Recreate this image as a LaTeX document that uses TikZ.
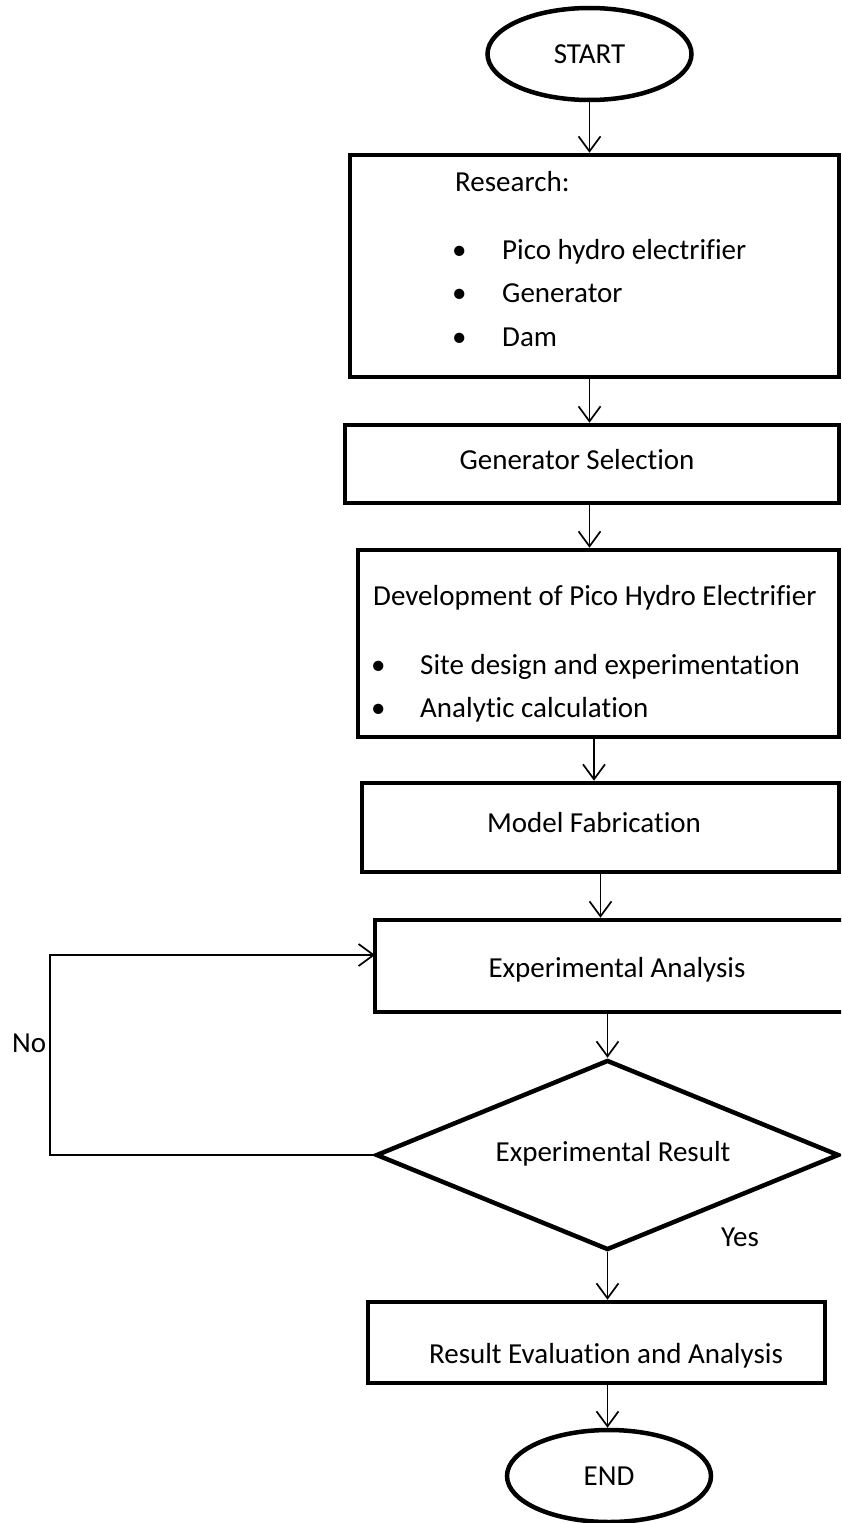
\documentclass[tikz,border=0pt]{standalone}
\usepackage{fontspec}
\setmainfont{Carlito}[Ligatures=CommonOff]
\usepackage{tikz}
\usetikzlibrary{shapes.geometric,arrows.meta}

\begin{document}
\begin{tikzpicture}[
	x=1pt, y=-1pt,
	font=\fontsize{29pt}{35pt}\selectfont,
	stepbox/.style={draw=black, line width=4.5pt, shape=rectangle, inner sep=0pt},
	termbox/.style={draw=black, line width=4.5pt, shape=ellipse, inner sep=0pt, minimum width=204pt, minimum height=92pt},
	decbox/.style={draw=black, line width=4.5pt, shape=diamond, inner sep=0pt, minimum width=463pt, minimum height=190pt},
	txt/.style={inner sep=0pt, anchor=base west},
	ctxt/.style={inner sep=0pt, anchor=base},
	arr/.style={-{Straight Barb[length=15pt, width=22pt, line width=1.7pt]}, line width=1.7pt}
	]
	\clip (0,0) rectangle (841,1523);
	\fill[white] (0,0) rectangle (841,1523);
	
	\node[termbox] (start) at (589.5,54) {START};
	
	\node[stepbox, minimum width=489pt, minimum height=222pt] (research) at (594.5,266) {};
	\node[txt] (rhead) at (455,191) {Research:};
	\node[txt] (rb1) at (452,259) {\textbullet};
	\node[txt] (rt1) at (502,259) {Pico hydro electrifier};
	\node[txt] (rb2) at (452,302) {\textbullet};
	\node[txt] (rt2) at (502,302) {Generator};
	\node[txt] (rb3) at (452,346) {\textbullet};
	\node[txt] (rt3) at (502,346) {Dam};
	
	\node[stepbox, minimum width=494pt, minimum height=78pt] (gen) at (592,464) {};
	\node[ctxt] (gtext) at (577,469) {Generator Selection};
	
	\node[stepbox, minimum width=481pt, minimum height=187pt] (dev) at (598.5,643.5) {};
	\node[txt] (dhead) at (373,605) {Development of Pico Hydro Electrifier};
	\node[txt] (db1) at (371,674) {\textbullet};
	\node[txt] (dt1) at (420,674) {Site design and experimentation};
	\node[txt] (db2) at (371,717) {\textbullet};
	\node[txt] (dt2) at (420,717) {Analytic calculation};
	
	\node[stepbox, minimum width=477pt, minimum height=89pt] (model) at (600.5,827.5) {};
	\node[ctxt] (mtext) at (594,832) {Model Fabrication};
	
	\node[stepbox, minimum width=470pt, minimum height=92pt] (ea) at (610,966) {};
	\node[ctxt] (etext) at (617,977) {Experimental Analysis};
	
	\node[decbox] (result) at (607.5,1155) {};
	\node[ctxt] (rtext) at (613,1161) {Experimental Result};
	
	\node[stepbox, minimum width=457pt, minimum height=81pt] (reval) at (596.5,1342.5) {};
	\node[ctxt] (vtext) at (606,1363) {Result Evaluation and Analysis};
	
	\node[termbox] (end) at (609,1476) {END};
	
	\node[txt] (no) at (12,1052) {No};
	\node[ctxt] (yes) at (740,1246) {Yes};
	
	\coordinate (noback) at (50,1155);
	\coordinate (eain) at (375,955);
	
	\draw[arr] (start.south) -- (start.south |- research.north);
	\draw[arr] (research.south -| start.south) -- (gen.north -| start.south);
	\draw[arr] (gen.south -| start.south) -- (dev.north -| start.south);
	\draw[arr] (dev.south -| mtext) -- (model.north -| mtext);
	\draw[arr] (model.south) -- (model.south |- ea.north);
	\draw[arr] (ea.south -| result.north) -- (result.north);
	\draw[arr] (result.south) -- (result.south |- reval.north);
	\draw[arr] (reval.south -| result.south) -- (end.north -| result.south);
	\draw[arr] (result.west) -- (noback) |- (eain);
\end{tikzpicture}
\end{document}
